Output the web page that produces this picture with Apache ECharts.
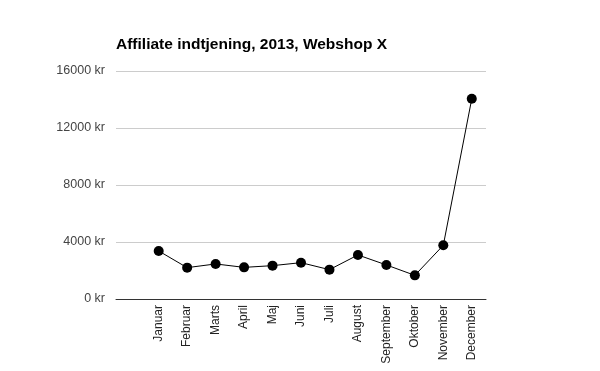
<!DOCTYPE html>
<html><head><meta charset="utf-8">
<script src="https://cdn.jsdelivr.net/npm/echarts@6/dist/echarts.min.js"></script>
<style>html,body{margin:0;padding:0;background:#fff}#c{width:600px;height:371px}</style>
</head><body><div id="c"></div>
<script>
const titleText = "Affiliate indtjening, 2013, Webshop X";
const categories = ["", "Januar", "Februar", "Marts", "April", "Maj", "Juni", "Juli", "August", "September", "Oktober", "November", "December"];
const earnings = [null, 3370, 2200, 2460, 2220, 2340, 2550, 2060, 3090, 2390, 1660, 3770, 14050];
const yTicks = [0, 4000, 8000, 12000, 16000];

const chart = echarts.init(document.getElementById('c'), null, {renderer: 'canvas'});
chart.setOption({
  animation: false,
  backgroundColor: '#ffffff',
  title: {
    text: titleText, left: 111, top: 32,
    textStyle: {fontFamily: 'Liberation Sans, Arial', fontWeight: 'bold', fontSize: 15.5, color: '#000'}
  },
  grid: {left: 116, right: 114, top: 71, bottom: 72, containLabel: false},
  xAxis: {
    type: 'category', data: categories, boundaryGap: true,
    axisLine: {lineStyle: {color: '#333', width: 1}},
    axisTick: {show: false},
    axisLabel: {rotate: 90, margin: 6, interval: 0, fontFamily: 'Liberation Sans, Arial', fontSize: 12, color: '#222'}
  },
  yAxis: {
    type: 'value', min: yTicks[0], max: yTicks[yTicks.length - 1], interval: yTicks[1] - yTicks[0],
    axisLine: {show: false}, axisTick: {show: false},
    splitLine: {lineStyle: {color: '#cccccc', width: 1}},
    axisLabel: {margin: 11, fontFamily: 'Liberation Sans, Arial', fontSize: 12.5, color: '#444', formatter: v => v + ' kr'}
  },
  series: [{
    type: 'line', data: earnings, connectNulls: false,
    symbol: 'circle', symbolSize: 10,
    lineStyle: {color: '#000', width: 1},
    itemStyle: {color: '#000'}
  }]
});
</script></body></html>
